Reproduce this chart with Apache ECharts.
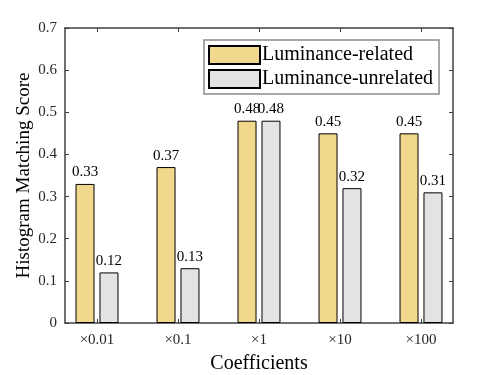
<!DOCTYPE html>
<html>
<head>
<meta charset="utf-8">
<script src="https://cdn.jsdelivr.net/npm/echarts@6/dist/echarts.min.js"></script>
<style>
  html, body { margin: 0; padding: 0; background: #fff; }
  #main { width: 500px; height: 375px; }
</style>
</head>
<body>
<div id="main"></div>
<script>
var categories = ['\u00d70.01', '\u00d70.1', '\u00d71', '\u00d710', '\u00d7100'];
var relatedValues = [0.33, 0.37, 0.48, 0.45, 0.45];
var unrelatedValues = [0.12, 0.13, 0.48, 0.32, 0.31];
var seriesNames = ['Luminance-related', 'Luminance-unrelated'];
var yTicks = [0, 0.1, 0.2, 0.3, 0.4, 0.5, 0.6, 0.7];

var font = 'Liberation Serif';
var axisColor = '#404040';

var myChart = echarts.init(document.getElementById('main'), null, { renderer: 'canvas' });

function barLabel() {
    return {
        show: true,
        position: 'top',
        distance: 4,
        color: '#000',
        fontFamily: font,
        fontSize: 15,
        formatter: function (p) { return p.value.toFixed(2); }
    };
}

// frame axis helper (no onZero so top/right lines stay on the edges)
function frameLine() {
    return { show: true, onZero: false, lineStyle: { color: axisColor, width: 1.5 } };
}

var option = {
    backgroundColor: '#fff',
    animation: false,
    textStyle: { fontFamily: font },
    grid: [
        // bars (category bands are wider than the frame, like matlab xlim)
        { left: 56.5, right: 38.5, top: 28, bottom: 52, outerBoundsMode: 'none', containLabel: false },
        // frame
        { left: 65, right: 47, top: 28, bottom: 52, outerBoundsMode: 'none', containLabel: false }
    ],
    legend: {
        orient: 'vertical',
        left: 204,
        top: 40,
        padding: [5, 6, 5, 4],
        itemWidth: 51,
        itemHeight: 18,
        itemGap: 4,
        borderColor: '#8c8c8c',
        borderWidth: 1.5,
        backgroundColor: '#fff',
        icon: 'rect',
        textStyle: { fontFamily: font, fontSize: 20, lineHeight: 20, color: '#000', padding: [0, 0, 0, -3] },
        data: seriesNames
    },
    xAxis: [
        {
            type: 'category', gridIndex: 0, position: 'bottom',
            data: categories,
            axisLine: { show: false, onZero: false },
            axisTick: { show: true, inside: true, alignWithLabel: true, length: 4, lineStyle: { color: axisColor } },
            axisLabel: { fontFamily: font, fontSize: 15, color: '#262626', margin: 10 },
            name: 'Coefficients',
            nameLocation: 'middle',
            nameGap: 31,
            nameTextStyle: { fontFamily: font, fontSize: 20, color: '#000' }
        },
        {
            type: 'category', gridIndex: 0, position: 'top',
            data: categories,
            axisLine: { show: false, onZero: false },
            axisTick: { show: true, inside: true, alignWithLabel: true, length: 4, lineStyle: { color: axisColor } },
            axisLabel: { show: false }
        },
        {
            type: 'value', gridIndex: 1, position: 'bottom', min: 0, max: 1,
            axisLine: frameLine(),
            axisTick: { show: false }, axisLabel: { show: false }, splitLine: { show: false }
        },
        {
            type: 'value', gridIndex: 1, position: 'top', min: 0, max: 1,
            axisLine: frameLine(),
            axisTick: { show: false }, axisLabel: { show: false }, splitLine: { show: false }
        }
    ],
    yAxis: [
        {
            type: 'value', gridIndex: 0, min: 0, max: 0.7, interval: 0.1,
            show: false
        },
        {
            type: 'value', gridIndex: 1, position: 'left',
            min: yTicks[0], max: yTicks[yTicks.length - 1], interval: 0.1,
            axisLine: frameLine(),
            axisTick: { show: true, inside: true, length: 4, lineStyle: { color: axisColor } },
            axisLabel: {
                fontFamily: font, fontSize: 15, color: '#262626', margin: 8,
                formatter: function (v) { return v === 0 ? '0' : v.toFixed(1); }
            },
            splitLine: { show: false },
            name: 'Histogram Matching Score',
            nameLocation: 'middle',
            nameGap: 31,
            nameMoveOverlap: false,
            nameTextStyle: { fontFamily: font, fontSize: 19, color: '#000' }
        },
        {
            type: 'value', gridIndex: 1, position: 'right',
            min: yTicks[0], max: yTicks[yTicks.length - 1], interval: 0.1,
            axisLine: frameLine(),
            axisTick: { show: true, inside: true, length: 4, lineStyle: { color: axisColor } },
            axisLabel: { show: false },
            splitLine: { show: false }
        }
    ],
    series: [
        {
            name: seriesNames[0],
            type: 'bar',
            xAxisIndex: 0, yAxisIndex: 0,
            barWidth: 19,
            barGap: '26%',
            data: relatedValues,
            itemStyle: { color: '#f2d88c', borderColor: '#000', borderWidth: 1 },
            label: barLabel()
        },
        {
            name: seriesNames[1],
            type: 'bar',
            xAxisIndex: 0, yAxisIndex: 0,
            barWidth: 19,
            barGap: '26%',
            data: unrelatedValues,
            itemStyle: { color: '#e3e3e3', borderColor: '#000', borderWidth: 1 },
            label: barLabel()
        }
    ]
};

myChart.setOption(option);
</script>
</body>
</html>
